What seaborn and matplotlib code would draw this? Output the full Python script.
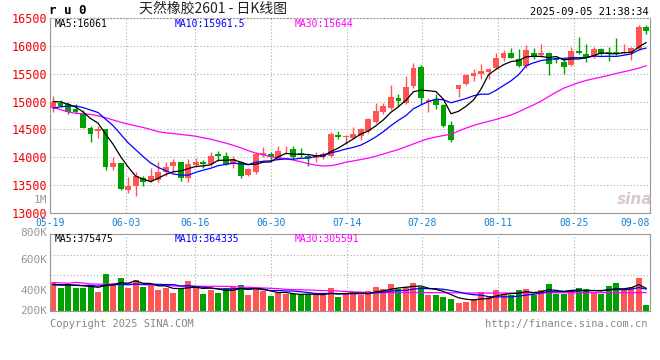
import numpy as np
import pandas as pd
import seaborn as sns
import matplotlib.pyplot as plt

# ---- daily K data ----
open_ = [14890, 14970, 14959, 14870, 14788, 14529, 14470, 14500, 13824, 13894,
         13412, 13483, 13635, 13570, 13597, 13729, 13850, 13910, 13633, 13862,
         13910, 13886, 14066, 14018, 13886, 13910, 13690, 13741, 14050, 14061,
         13970, 14090, 14151, 14070, 14030, 13980, 14000, 14030, 14400, 14360,
         14340, 14382, 14472, 14634, 14820, 14880, 15060, 14982, 15276, 15612,
         14994, 15036, 14940, 14580, 15220, 15310, 15460, 15490, 15532, 15598,
         15778, 15880, 15760, 15640, 15868, 15838, 15880, 15770, 15708, 15650,
         15910, 15851, 15792, 15946, 15887, 15887, 15869, 15869, 15946, 16333]
high = [15100, 15030, 14990, 14965, 14847, 14565, 14565, 14505, 14000, 13900,
        13647, 13730, 13671, 13810, 13910, 13910, 13970, 13915, 13970, 13982,
        13946, 14090, 14114, 14090, 14030, 13922, 13800, 14103, 14180, 14103,
        14210, 14210, 14200, 14160, 14060, 14100, 14090, 14450, 14480, 14400,
        14544, 14532, 14712, 14982, 14982, 15294, 15144, 15456, 15684, 15654,
        15072, 15132, 14952, 14650, 15290, 15502, 15580, 15670, 15610, 15868,
        15922, 15970, 15940, 16012, 15958, 16042, 15890, 15800, 15780, 15988,
        16167, 16030, 15988, 15958, 15988, 16137, 16030, 15988, 16375, 16375]
low = [14820, 14900, 14776, 14788, 14518, 14282, 14353, 13777, 13765, 13412,
       13353, 13306, 13483, 13555, 13561, 13669, 13741, 13573, 13561, 13820,
       13800, 13850, 13934, 13862, 13800, 13633, 13660, 13700, 14000, 13940,
       13950, 14080, 13970, 14000, 13850, 13910, 13970, 14000, 14320, 14240,
       14322, 14304, 14442, 14622, 14772, 14844, 14904, 14952, 15252, 14964,
       14820, 14862, 14544, 14270, 15080, 15298, 15370, 15400, 15400, 15580,
       15730, 15778, 15622, 15610, 15760, 15802, 15478, 15700, 15500, 15630,
       15850, 15708, 15780, 15830, 15720, 15830, 15850, 15750, 15930, 16208]
close = [15000, 14920, 14812, 14812, 14529, 14412, 14500, 13824, 13906, 13424,
         13483, 13671, 13565, 13670, 13729, 13825, 13910, 13633, 13886, 13922,
         13874, 14018, 14030, 13886, 13970, 13669, 13790, 14061, 14070, 14000,
         14115, 14100, 14000, 14050, 13982, 14000, 14060, 14420, 14370, 14390,
         14412, 14502, 14694, 14832, 14922, 15084, 15012, 15264, 15600, 15072,
         15024, 14940, 14562, 14310, 15290, 15472, 15508, 15550, 15592, 15778,
         15880, 15790, 15640, 15928, 15820, 15880, 15670, 15750, 15613, 15910,
         15880, 15780, 15946, 15851, 15851, 15851, 15887, 15970, 16333, 16266]
prev_close = [14650, 14700, 14780, 14820, 14850, 14950, 15020, 15060, 14970]

ma30 = [14900, 14855, 14815, 14790, 14780, 14770, 14745, 14710, 14670, 14630,
        14595, 14565, 14535, 14500, 14460, 14440, 14425, 14410, 14395, 14378,
        14350, 14325, 14290, 14255, 14215, 14170, 14120, 14075, 14040, 14012,
        13990, 13975, 13950, 13920, 13885, 13858, 13842, 13850, 13875, 13912,
        13935, 13960, 13985, 14020, 14060, 14100, 14140, 14190, 14240, 14290,
        14335, 14365, 14390, 14415, 14470, 14525, 14570, 14610, 14645, 14680,
        14720, 14760, 14815, 14880, 14940, 15010, 15090, 15170, 15240, 15290,
        15340, 15380, 15410, 15440, 15470, 15505, 15535, 15565, 15600, 15644]

volume = [476300, 387700, 454100, 387700, 387700, 420900, 315700, 614700, 443000, 548300,
          387700, 515000, 404300, 432000, 348900, 387700, 304600, 387700, 498400, 398700,
          282400, 348900, 299100, 387700, 404300, 432000, 265800, 387700, 332300, 249200,
          293500, 282400, 282400, 265800, 282400, 265800, 265800, 387700, 238100, 293500,
          310100, 265800, 332300, 398700, 365500, 448600, 365500, 398700, 465200, 398700,
          265800, 265800, 232600, 199400, 132900, 149500, 199400, 315700, 232600, 348900,
          282400, 265800, 348900, 365500, 265800, 348900, 448600, 282400, 282400, 348900,
          384500, 365500, 315700, 282400, 417875, 465200, 365500, 398700, 548300, 99675]
prev_volume = [400000, 440000, 410000, 445000, 410000, 430000, 460000, 415000, 434000]

vol_ma30_k = [471, 468, 460, 476, 465, 449, 446, 443, 452, 460,
              452, 443, 438, 432, 429, 426, 418, 410, 410, 410,
              410, 410, 410, 410, 404, 399, 393, 388, 382, 377,
              371, 360, 357, 354, 349, 343, 340, 338, 332, 324,
              318, 312, 308, 306, 305, 305, 306, 306, 307, 307,
              306, 305, 303, 302, 301, 300, 299, 298, 298, 298,
              299, 299, 300, 300, 301, 301, 302, 302, 302, 303,
              303, 303, 304, 304, 304, 305, 305, 305, 305, 305.591]

date_labels = ["05-19", "06-03", "06-16", "06-30", "07-14", "07-28", "08-11", "08-25", "09-08"]
date_pos = [-0.4, 9.7, 18.9, 29.0, 39.1, 49.2, 59.3, 69.4, 79.5]
price_ticks = [13000, 13500, 14000, 14500, 15000, 15500, 16000, 16500]
vol_labels = ["1M", "800K", "600K", "400K", "200K"]

RED = "#ff5555"
GREEN = "#00a000"
GRID = "#aaaaaa"
SPINE = "#999999"
DATE_BLUE = "#1480d0"

sns.set_style("white")
plt.rcParams['font.family'] = ['DejaVu Sans Mono', 'Noto Sans CJK SC']

ma5 = pd.Series(prev_close + close).rolling(5).mean().values[len(prev_close):]
ma10 = pd.Series(prev_close + close).rolling(10).mean().values[len(prev_close):]
vma5 = pd.Series(prev_volume + volume).rolling(5).mean().values[len(prev_volume):]
vma10 = pd.Series(prev_volume + volume).rolling(10).mean().values[len(prev_volume):]
vma30 = np.array(vol_ma30_k) * 1000

idx = np.arange(len(close))
o = np.array(open_, dtype=float)
c = np.array(close, dtype=float)
up = c >= o
cols = np.where(up, RED, GREEN)

W, H = 660, 360
fig = plt.figure(figsize=(W / 100, H / 100), dpi=100)
fig.patch.set_facecolor("white")


def fx(x):
    return x / W


def fy(y):
    return 1 - y / H


ax = fig.add_axes([fx(50), fy(213), fx(600), 195 / H])
axv = fig.add_axes([fx(50), fy(311), fx(600), 77 / H])

# candles
ax.vlines(idx, low, high, colors=cols, lw=1, zorder=3)
ax.bar(idx, np.maximum(np.abs(c - o), 12), bottom=np.minimum(o, c), width=0.78,
       color=cols, linewidth=0, zorder=4)

sns.lineplot(x=idx, y=ma30, ax=ax, color="#ff00ff", linewidth=0.9, zorder=5)
sns.lineplot(x=idx, y=ma10, ax=ax, color="#0000ff", linewidth=0.9, zorder=5)
sns.lineplot(x=idx, y=ma5, ax=ax, color="black", linewidth=0.9, zorder=6)

ax.set_xlim(-0.4, 79.5)
ax.set_ylim(13000, 16500)
ax.set_yticks(price_ticks)
ax.set_yticklabels([str(t) for t in price_ticks], color="#ee0000", fontsize=8.5)
ax.set_xticks(date_pos)
ax.set_xticklabels(date_labels, color=DATE_BLUE, fontsize=7)
lbls = ax.get_xticklabels()
lbls[-1].set_ha("right")
ax.tick_params(axis="y", length=0, pad=2)
ax.tick_params(axis="x", length=0, pad=3.5)
ax.grid(True, ls=(0, (1, 2)), color=GRID, lw=0.8)
ax.set_xlabel("")
ax.set_ylabel("")
for s in ["left", "right", "bottom"]:
    ax.spines[s].set_color(SPINE)
ax.spines["top"].set_linestyle((0, (1, 2)))
ax.spines["top"].set_color(SPINE)

# volume panel
vdf = pd.DataFrame({"i": idx, "vol": volume, "dir": np.where(up, "up", "down")})
sns.barplot(data=vdf, x="i", y="vol", hue="dir", palette={"up": RED, "down": GREEN},
            native_scale=True, dodge=False, width=0.8, saturation=1, errorbar=None,
            legend=False, ax=axv, zorder=2, linewidth=0)
sns.lineplot(x=idx, y=vma30, ax=axv, color="#ff00ff", linewidth=0.9, zorder=5)
sns.lineplot(x=idx, y=vma10, ax=axv, color="#0000ff", linewidth=0.9, zorder=5)
sns.lineplot(x=idx, y=vma5, ax=axv, color="black", linewidth=0.9, zorder=6)
axv.set_xlim(-0.4, 79.5)
axv.set_ylim(0, 77 * 16614)
axv.set_xticks(date_pos)
axv.set_xticklabels([])
axv.set_yticks([598000, 930000])
axv.set_yticklabels([])
axv.tick_params(length=0)
axv.grid(True, ls=(0, (1, 2)), color=GRID, lw=0.8)
axv.set_xlabel("")
axv.set_ylabel("")
for s in axv.spines.values():
    s.set_color(SPINE)

# volume scale labels (placed as on the original)
for t, y in zip(vol_labels, [200, 232.5, 260, 291, 311]):
    fig.text(fx(47), fy(y), t, color="#999999", fontsize=8, ha="right", va="center")

# header
fig.text(fx(49), fy(11), "r u 0", fontsize=9, fontweight="bold", color="black", va="center")
fig.text(fx(213), fy(9), "天然橡胶2601 - 日K线图", fontsize=10, color="#222222",
         ha="center", va="center", family=["Noto Sans CJK SC", "DejaVu Sans"])
fig.text(fx(649), fy(12), "2025-09-05 21:38:34", fontsize=7.5, color="black",
         ha="right", va="center")

# MA legends
fig.text(fx(55), fy(24), "MA5:%d" % round(ma5[-1]), fontsize=7, color="black", va="center")
fig.text(fx(175), fy(24), "MA10:%.1f" % ma10[-1], fontsize=7, color="#0000ff", va="center")
fig.text(fx(295), fy(24), "MA30:%d" % ma30[-1], fontsize=7, color="#ff00ff", va="center")
fig.text(fx(55), fy(239), "MA5:%d" % round(vma5[-1]), fontsize=7, color="black", va="center")
fig.text(fx(175), fy(239), "MA10:%d" % round(vma10[-1]), fontsize=7, color="#0000ff", va="center")
fig.text(fx(295), fy(239), "MA30:%d" % round(vma30[-1]), fontsize=7, color="#ff00ff", va="center")

# watermark + footer
fig.text(fx(635), fy(200), "sina", fontsize=11, color="#d9c8c8", fontweight="bold",
         style="italic", ha="center", va="center", family="DejaVu Sans")
fig.text(fx(50), fy(324), "Copyright 2025 SINA.COM", fontsize=7.5, color="#888888", va="center")
fig.text(fx(648), fy(324), "http://finance.sina.com.cn", fontsize=7.5, color="#888888",
         ha="right", va="center")

fig.savefig("out.png", dpi=100)
